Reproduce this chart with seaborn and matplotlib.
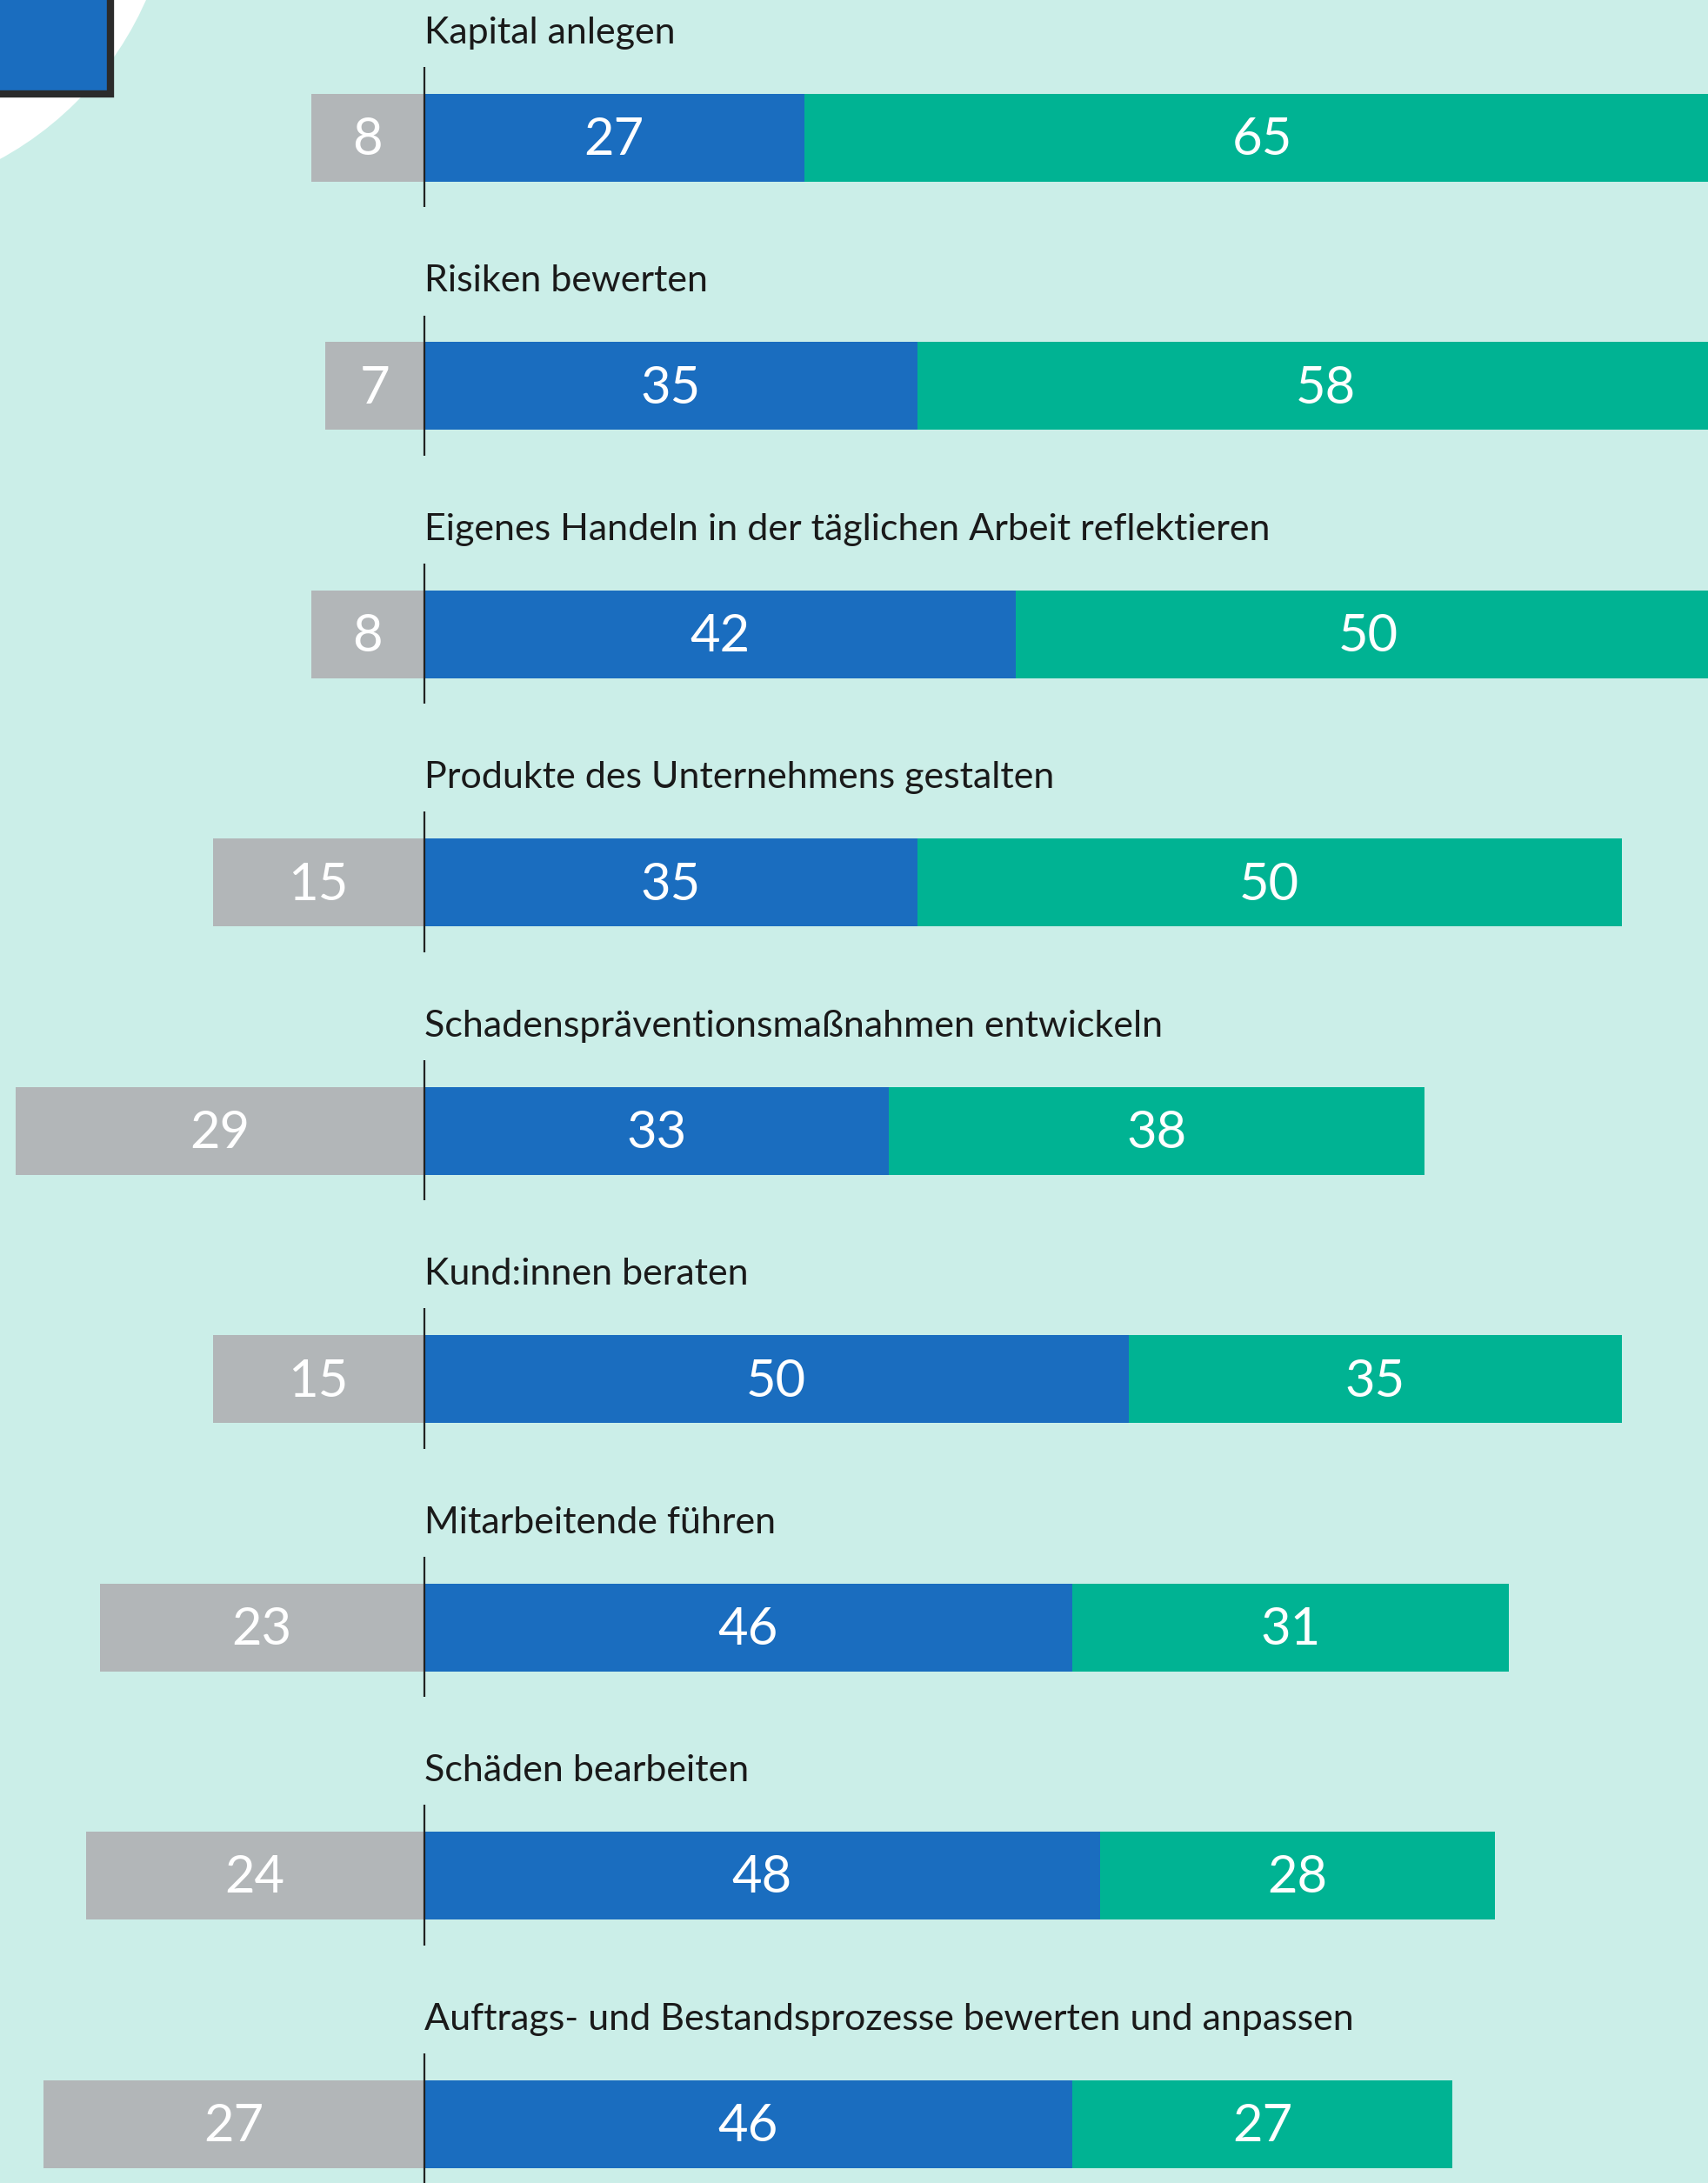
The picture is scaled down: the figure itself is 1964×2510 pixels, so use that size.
import matplotlib
matplotlib.use("Agg")
import matplotlib.pyplot as plt
import seaborn as sns
import pandas as pd
from matplotlib.patches import Rectangle, Circle

# data (percent)
categories = ["Kapital anlegen",
              "Risiken bewerten",
              "Eigenes Handeln in der täglichen Arbeit reflektieren",
              "Produkte des Unternehmens gestalten",
              "Schadenspräventionsmaßnahmen entwickeln",
              "Kund:innen beraten",
              "Mitarbeitende führen",
              "Schäden bearbeiten",
              "Auftrags- und Bestandsprozesse bewerten und anpassen"]
gray_vals = [8, 7, 8, 15, 29, 15, 23, 24, 27]
blue_vals = [27, 35, 42, 35, 33, 50, 46, 48, 46]
green_vals = [65, 58, 50, 50, 38, 35, 31, 28, 27]

BG = "#cbeee8"
GRAY = "#b2b6b8"
BLUE = "#1a6dbf"
GREEN = "#00b393"

sns.set_style("white")
label_font = ["Lato", "DejaVu Sans"]
num_font = ["Lato", "DejaVu Sans"]

df = pd.DataFrame({"cat": categories, "gray": gray_vals,
                   "blue": blue_vals, "green": green_vals})
df["neg_gray"] = -df["gray"]
df["blue_green"] = df["blue"] + df["green"]

fig = plt.figure(figsize=(19.65, 25.1), dpi=100, facecolor=BG)
ax = fig.add_axes([0, 0, 1, 1])
ax.set_facecolor("none")

# decoration in the top-left corner (cut-off legend piece)
ax.add_patch(Circle((-1.845, 26.65), 3.85, transform=fig.dpi_scale_trans,
                    facecolor="white", edgecolor="none", zorder=0, clip_on=False))
ax.add_patch(Rectangle((-0.3, 24.02), 1.57, 2.0, transform=fig.dpi_scale_trans,
                       facecolor=BLUE, edgecolor="#2b2b2b", linewidth=6,
                       zorder=1, clip_on=False))

bw = 0.354
kw = dict(y="cat", data=df, orient="h", width=bw, saturation=1,
          linewidth=0, ax=ax, zorder=2)
sns.barplot(x="blue_green", color=GREEN, **kw)
sns.barplot(x="blue", color=BLUE, **kw)
sns.barplot(x="neg_gray", color=GRAY, **kw)

for i, row in df.iterrows():
    ax.plot([0, 0], [i - 0.285, i + 0.28], color="#222222", lw=1.6, zorder=4,
            solid_capstyle="butt")
    ax.text(0.05, i - 0.422, row["cat"], ha="left", va="center",
            fontsize=31, color="#1a1a1a", family=label_font)
    for xc, v in [(-row["gray"] / 2, row["gray"]),
                  (row["blue"] / 2, row["blue"]),
                  (row["blue"] + row["green"] / 2, row["green"])]:
        ax.text(xc, i + 0.01, str(v), ha="center", va="center", fontsize=43,
                color="white", family=num_font, fontweight="normal", zorder=5)

ax.set_xlim(-30.1, 91.2)
ax.set_ylim(8.238, -0.555)
ax.set_xlabel("")
ax.set_ylabel("")
ax.set_xticks([])
ax.set_yticks([])
sns.despine(ax=ax, left=True, bottom=True)

fig.savefig("out.png", dpi=100, facecolor=BG)
